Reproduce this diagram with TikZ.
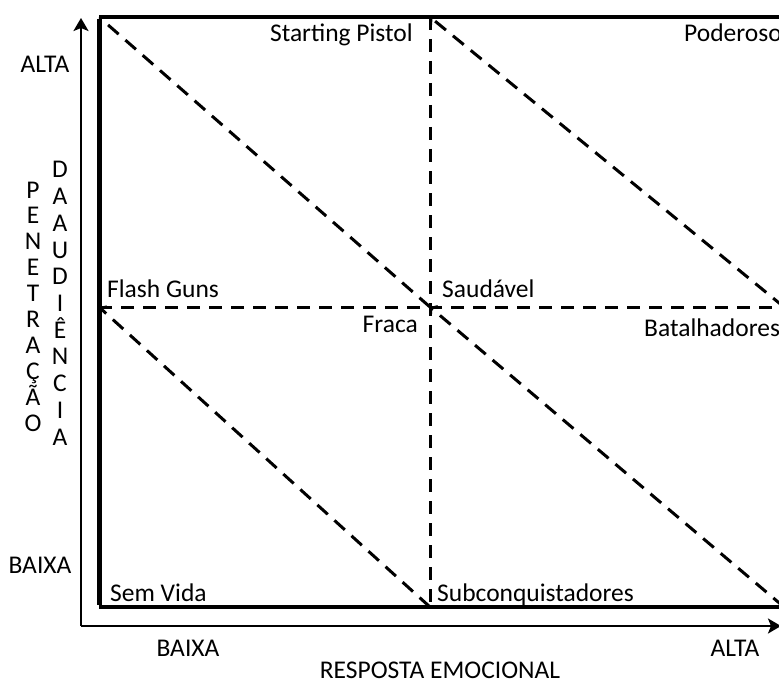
\documentclass[tikz,border=0pt]{standalone}
\usepackage{fontspec}
\setmainfont{Carlito}
\usetikzlibrary{arrows.meta}

\begin{document}
\begin{tikzpicture}[x=1pt,y=-1pt,
  lbl/.style={font=\fontsize{25.5}{30}\selectfont, inner sep=0pt},
  frame/.style={line width=3.5pt},
  axis/.style={line width=2.5pt,-{Stealth[length=13pt,width=15pt,inset=3pt]}},
  split/.style={line width=3pt,dash pattern=on 13pt off 9pt},
  diag/.style={line width=3pt,dash pattern=on 14pt off 9pt,
    -{Straight Barb[length=4pt,width=11pt,line width=2.5pt]}},
]
\useasboundingbox (0,0) rectangle (779,682);

% grid corners of the matrix
\coordinate (TL) at (99,17);  \coordinate (TM) at (430,17);  \coordinate (TR) at (784,17);
\coordinate (ML) at (99,307); \coordinate (MM) at (430,307); \coordinate (MR) at (784,307);
\coordinate (BL) at (99,607); \coordinate (BM) at (430,607); \coordinate (BR) at (784,607);

% axes
\coordinate (O) at (81,626);
\coordinate (Ytop) at (81,18);
\coordinate (Xend) at (781,626);
\draw[axis] (O) -- (Ytop);
\draw[axis] (O) -- (Xend);

% outer frame
\draw[frame] (TL) -- (TR);
\draw[frame] (BL) -- (BR);
\draw[line width=5pt] ([yshift=-1.75pt]TL) -- ([yshift=1.75pt]BL);

% quadrant dividers
\draw[split] (TM) -- (BM);
\draw[split] (ML) -- (MR);

% diagonals
\draw[diag] (MM) -- (TL);
\draw[diag] (MR) -- (TM);
\draw[diag] (BM) -- (ML);
\draw[diag] (BR) -- (MM);

% quadrant labels
\node[lbl, anchor=base east] (sp) at (413,42) {Starting Pistol};
\node[lbl, anchor=base west] (pd) at (684,42) {Poderoso};
\node[lbl, anchor=base west] (fg) at (107,297) {Flash Guns};
\node[lbl, anchor=base west] (sd) at (442,297) {Saudável};
\node[lbl, anchor=base east] (fr) at (418,332) {Fraca};
\node[lbl, anchor=base west] (bt) at (644,336) {Batalhadores};
\node[lbl, anchor=base west] (sv) at (110,601) {Sem Vida};
\node[lbl, anchor=base west] (sc) at (437,601) {Subconquistadores};

% axis labels
\node[lbl, anchor=base] (yhi) at (45,73) {ALTA};
\node[lbl, anchor=base] (ylo) at (40,573) {BAIXA};
\node[lbl, anchor=base] (xlo) at (188,656) {BAIXA};
\node[lbl, anchor=base] (xhi) at (735,656) {ALTA};
\node[lbl, anchor=base] (xt) at (440,678) {RESPOSTA EMOCIONAL};

% vertical axis title, one letter per row
\foreach \c [count=\i from 0] in {P,E,N,E,T,R,A,Ç,Ã,O}
  \node[lbl, anchor=base] (pa\i) at (33,198+25.9*\i) {\c};
\foreach \c [count=\i from 0] in {D,A,A,U,D,I,Ê,N,C,I,A}
  \node[lbl, anchor=base] (da\i) at (60,178+26.7*\i) {\c};
\end{tikzpicture}
\end{document}
